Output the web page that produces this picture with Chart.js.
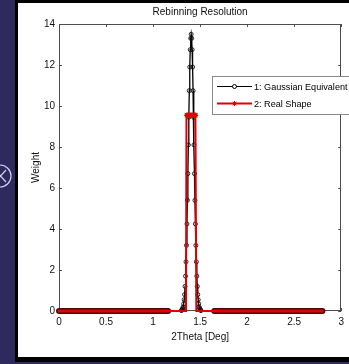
<!DOCTYPE html>
<html><head><meta charset="utf-8">
<script src="https://cdn.jsdelivr.net/npm/chart.js@4.4.1/dist/chart.umd.min.js"></script>
<style>html,body{margin:0;padding:0;background:#2e2a5e;overflow:hidden}canvas{display:block}</style>
</head><body>
<canvas id="c" width="349" height="364"></canvas>
<script>
// ---- data ----
const xTicks = [0, 0.5, 1, 1.5, 2, 2.5, 3];
const yTicks = [0, 2, 4, 6, 8, 10, 12, 14];
const seriesLabels = ['1: Gaussian Equivalent', '2: Real Shape'];

// Series 1: Gaussian equivalent (2Theta in deg, weight)
const gaussX = [0, 1.16,
  1.300, 1.305, 1.310, 1.315, 1.320, 1.325, 1.330, 1.335, 1.340, 1.345,
  1.350, 1.355, 1.360, 1.365, 1.370, 1.375, 1.380, 1.385, 1.390, 1.395,
  1.400, 1.405, 1.410, 1.415, 1.420, 1.425, 1.430, 1.435, 1.440, 1.445,
  1.450, 1.455, 1.460, 1.465, 1.470, 1.475, 1.480, 1.485, 1.490, 1.495,
  1.500, 1.505, 1.510,
  1.65, 2.8];
const gaussY = [0, 0,
  0.02, 0.04, 0.08, 0.13, 0.2, 0.35, 0.55, 0.8, 1.2, 1.7,
  2.4, 3.2, 4.25, 5.4, 6.7, 8.1, 9.45, 10.75, 11.9, 12.75,
  13.3, 13.5, 13.3, 12.75, 11.9, 10.75, 9.45, 8.1, 6.7, 5.4,
  4.25, 3.2, 2.4, 1.7, 1.2, 0.8, 0.55, 0.35, 0.2, 0.13,
  0.08, 0.04, 0.02,
  0, 0];

// Series 2: Real shape (rectangular)
const realX = [0, 1.16, 1.350,
  1.355, 1.360, 1.365, 1.370, 1.375, 1.380, 1.385, 1.390, 1.395, 1.400,
  1.405, 1.410, 1.415, 1.420, 1.425, 1.430, 1.435, 1.440, 1.445, 1.450, 1.455,
  1.460, 1.65, 2.8];
const realY = [0, 0, 0,
  9.55, 9.55, 9.55, 9.55, 9.55, 9.55, 9.55, 9.55, 9.55, 9.55,
  9.55, 9.55, 9.55, 9.55, 9.55, 9.55, 9.55, 9.55, 9.55, 9.55, 9.55,
  0, 0, 0];

// ---- styling ----
const F = "'Liberation Sans', Arial, Helvetica, sans-serif";
const RED = '#e00000';
const flat = s => s.p0.parsed.y === 0 && s.p1.parsed.y === 0;
const band = s => flat(s) && (s.p1.parsed.x <= 1.16 || s.p0.parsed.x >= 1.65);

const pagePlugin = {
  id: 'page',
  beforeDraw(chart) {
    const ctx = chart.ctx;
    ctx.save();
    ctx.fillStyle = '#2e2a5e';
    ctx.fillRect(0, 0, 349, 364);
    ctx.fillStyle = '#000';
    ctx.fillRect(15, 0, 334, 362);
    ctx.fillStyle = '#fff';
    ctx.fillRect(18, 3, 331, 354);
    // small round icon on the left margin
    ctx.strokeStyle = '#d6d2ee';
    ctx.lineWidth = 1.2;
    ctx.beginPath(); ctx.arc(0, 176, 11, 0, Math.PI * 2); ctx.stroke();
    ctx.beginPath();
    ctx.moveTo(-5, 170); ctx.lineTo(6, 182);
    ctx.moveTo(6, 170); ctx.lineTo(-5, 182);
    ctx.stroke();
    ctx.restore();
  },
  beforeDatasetsDraw(chart) {
    const {ctx, chartArea: a, scales: {x, y}} = chart;
    ctx.save();
    ctx.strokeStyle = '#4d4d4d';
    ctx.lineWidth = 1;
    ctx.strokeRect(Math.round(a.left) + 0.5, Math.round(a.top) + 0.5,
      Math.round(a.right - a.left) - 1, Math.round(a.bottom - a.top) - 1);
    ctx.beginPath();
    xTicks.forEach(v => {
      const px = Math.round(x.getPixelForValue(v)) + 0.5;
      ctx.moveTo(px, a.bottom); ctx.lineTo(px, a.bottom - 3);
      ctx.moveTo(px, a.top); ctx.lineTo(px, a.top + 3);
    });
    yTicks.forEach(v => {
      const py = Math.round(y.getPixelForValue(v)) + 0.5;
      ctx.moveTo(a.left, py); ctx.lineTo(a.left + 3, py);
      ctx.moveTo(a.right, py); ctx.lineTo(a.right - 3, py);
    });
    ctx.stroke();
    ctx.restore();
  },
  afterDraw(chart) {
    const ctx = chart.ctx;
    const ds = chart.data.datasets;
    ctx.save();
    ctx.fillStyle = '#fff';
    ctx.fillRect(212, 76, 140, 38);
    ctx.strokeStyle = '#8a8a8a';
    ctx.lineWidth = 1;
    ctx.strokeRect(212.5, 76.5, 140, 38);
    const rows = [86.5, 103.5];
    // row 1: black line with circle marker
    ctx.strokeStyle = ds[0].borderColor; ctx.lineWidth = 1;
    ctx.beginPath(); ctx.moveTo(217, rows[0]); ctx.lineTo(252, rows[0]); ctx.stroke();
    ctx.fillStyle = '#fff';
    ctx.beginPath(); ctx.arc(234.5, rows[0], 2, 0, Math.PI * 2); ctx.fill(); ctx.stroke();
    // row 2: red line with star marker
    ctx.strokeStyle = ds[1].borderColor; ctx.lineWidth = 2;
    ctx.beginPath(); ctx.moveTo(217, rows[1]); ctx.lineTo(252, rows[1]); ctx.stroke();
    ctx.lineWidth = 1;
    ctx.beginPath();
    const cx = 234.5, cy = rows[1], r = 2.5;
    for (let k = 0; k < 4; k++) {
      const t = k * Math.PI / 4;
      ctx.moveTo(cx - r * Math.cos(t), cy - r * Math.sin(t));
      ctx.lineTo(cx + r * Math.cos(t), cy + r * Math.sin(t));
    }
    ctx.stroke();
    ctx.fillStyle = '#000';
    ctx.font = '9.1px ' + F;
    ctx.textBaseline = 'middle';
    ctx.textAlign = 'left';
    ctx.fillText(ds[0].label, 254, rows[0] + 0.5);
    ctx.fillText(ds[1].label, 254, rows[1] + 0.5);
    ctx.restore();
  }
};

new Chart(document.getElementById('c'), {
  type: 'line',
  data: {
    datasets: [
      {
        label: seriesLabels[0],
        data: gaussX.map((x, i) => ({x, y: gaussY[i]})),
        order: 1, clip: false,
        borderColor: '#000', borderWidth: 1.3,
        pointStyle: 'circle',
        pointRadius: c => (c.raw && c.raw.x >= 1.3 && c.raw.x <= 1.51) ? 2 : 0,
        pointBorderColor: '#111', pointBackgroundColor: 'rgba(255,255,255,0)', pointBorderWidth: 0.9,
        segment: {
          borderWidth: s => band(s) ? 6 : (flat(s) ? 3 : 1.3),
          borderColor: s => flat(s) ? '#4a0a0a' : '#000',
          borderCapStyle: s => band(s) ? 'round' : 'butt'
        }
      },
      {
        label: seriesLabels[1],
        data: realX.map((x, i) => ({x, y: realY[i]})),
        order: 0, clip: false,
        borderColor: RED, borderWidth: 2,
        pointStyle: 'star',
        pointRadius: c => (c.raw && c.raw.y > 0) ? 2.5 : 0,
        pointBorderColor: RED, pointBackgroundColor: RED, pointBorderWidth: 1,
        segment: {
          borderWidth: s => band(s) ? 3 : 2,
          borderCapStyle: s => band(s) ? 'round' : 'butt'
        }
      }
    ]
  },
  options: {
    responsive: false, animation: false, events: [],
    devicePixelRatio: 1,
    layout: {padding: {left: 0, right: 6, top: 0, bottom: 0}},
    plugins: {
      legend: {display: false},
      tooltip: {enabled: false},
      title: {
        display: true, text: 'Rebinning Resolution', fullSize: false,
        color: '#111', font: {family: F, size: 10, weight: 'normal'},
        padding: {top: 6, bottom: 6}
      }
    },
    scales: {
      x: {
        type: 'linear', min: 0, max: 3,
        afterBuildTicks: s => { s.ticks = xTicks.map(v => ({value: v})); },
        afterFit: s => { s.height = 53; },
        grid: {display: false, drawTicks: false},
        border: {display: false},
        ticks: {color: '#111', font: {family: F, size: 10}, padding: 5, maxRotation: 0, autoSkip: false,
          callback: v => String(v)},
        title: {display: true, text: '2Theta [Deg]', color: '#111', font: {family: F, size: 10},
          padding: {top: 0, bottom: 21}}
      },
      y: {
        type: 'linear', min: 0, max: 14,
        afterBuildTicks: s => { s.ticks = yTicks.map(v => ({value: v})); },
        afterFit: s => { s.width = 59; },
        grid: {display: false, drawTicks: false},
        border: {display: false},
        ticks: {color: '#111', font: {family: F, size: 10}, padding: 4, autoSkip: false,
          callback: v => String(v)},
        title: {display: true, text: 'Weight', color: '#111', font: {family: F, size: 10},
          padding: {top: 30.5, bottom: 0}}
      }
    }
  },
  plugins: [pagePlugin]
});
</script>
</body></html>
